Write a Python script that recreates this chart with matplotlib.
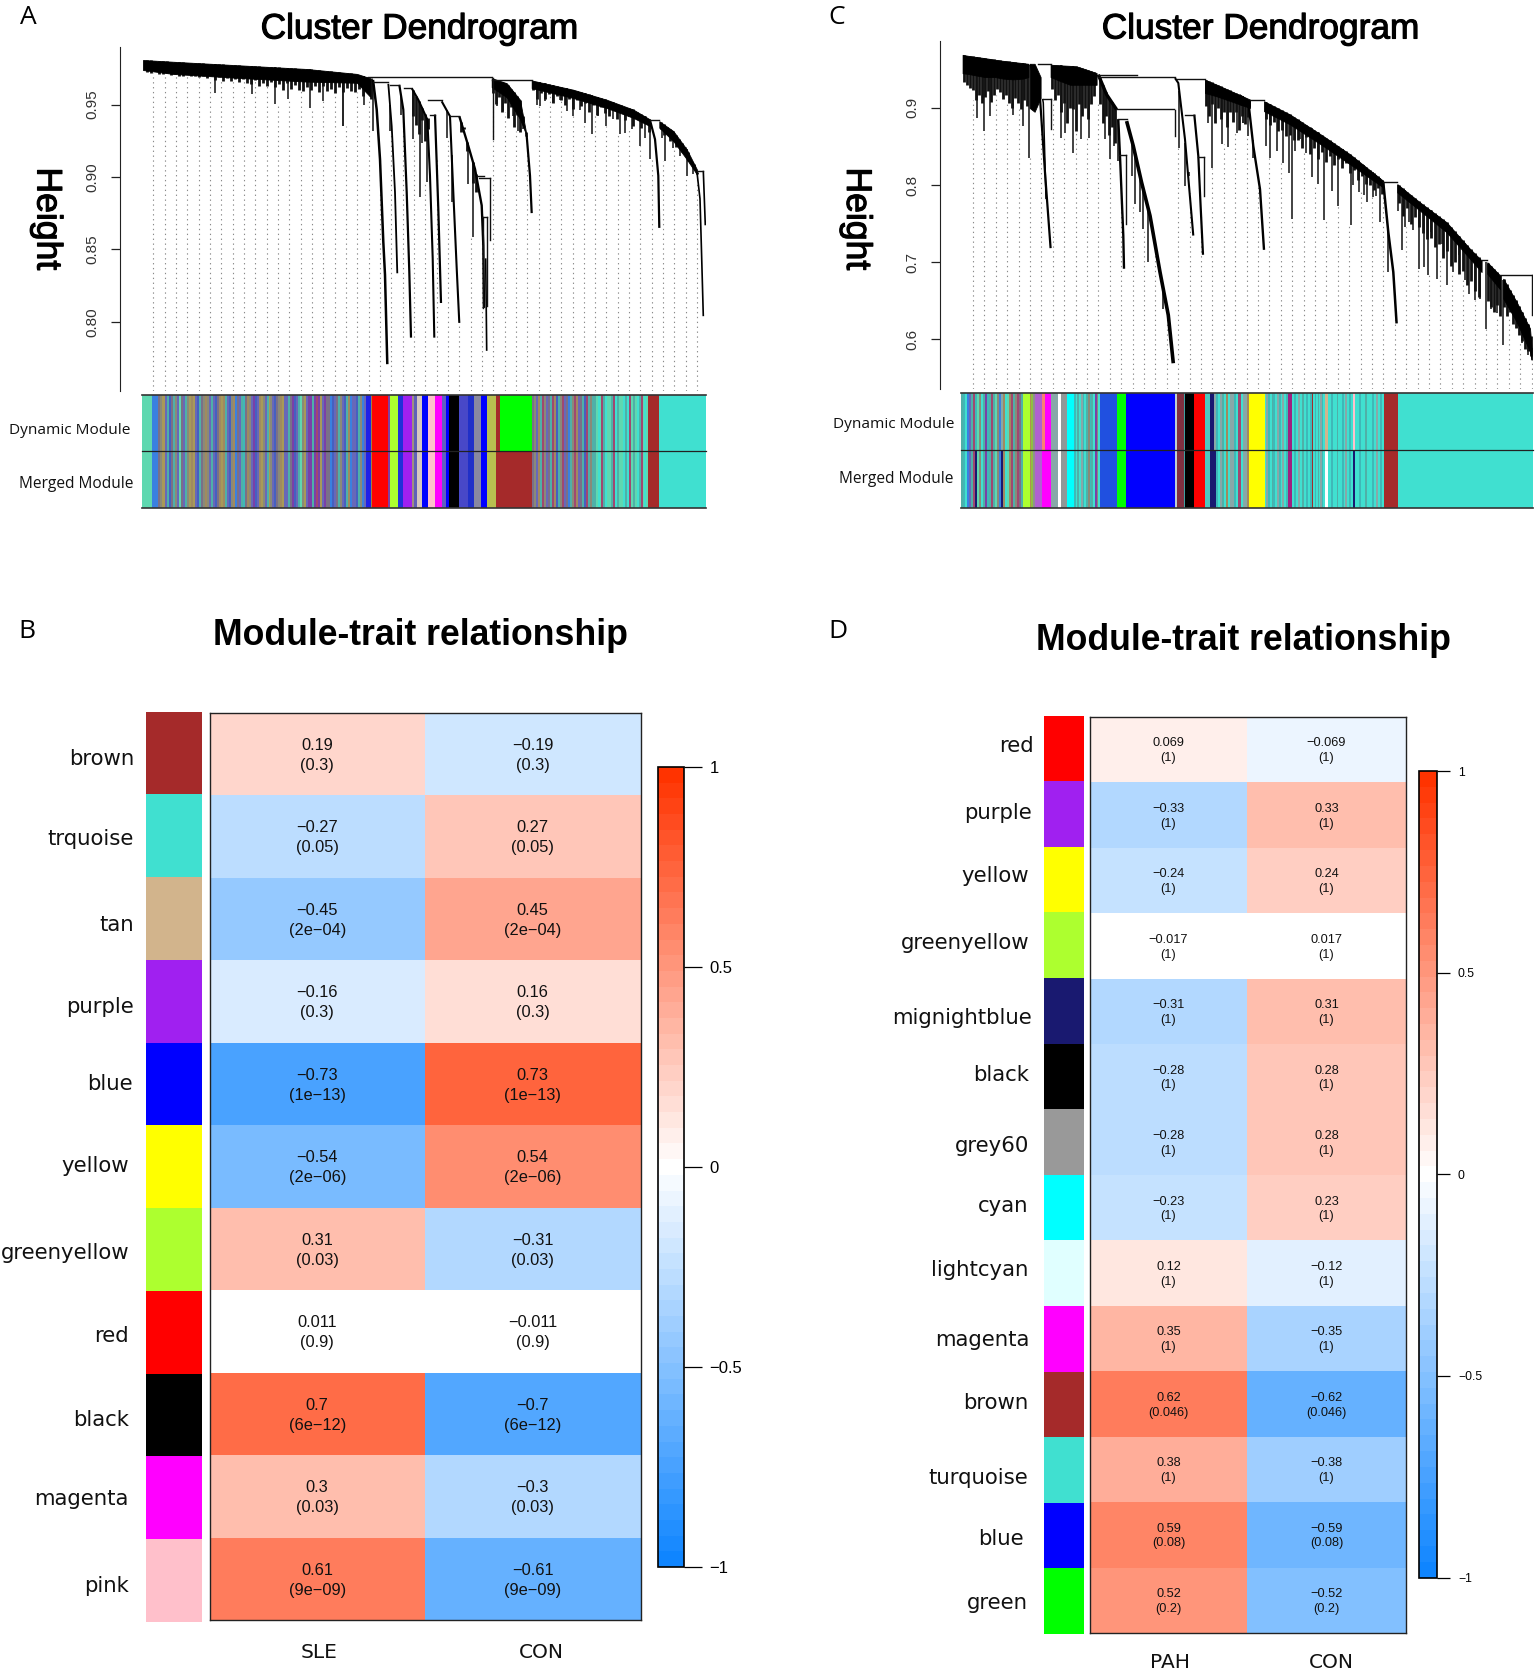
import numpy as np
import matplotlib
matplotlib.use('Agg')
import matplotlib.pyplot as plt
import matplotlib.patheffects as pe
from matplotlib.colors import LinearSegmentedColormap, Normalize, is_color_like
from matplotlib.cm import ScalarMappable

W, H = 1536, 1672
SANS = 'Liberation Sans'

# ---- panel A dendrogram (leaf position, height)
a_bands = [
    ([0, 30, 97, 164, 214, 227], [.9807, .9795, .9770, .9745, .9711, .9682], [.9738, .9711, .9683, .9658, .9650, .9555]),
    ([348.7, 363.7, 377, 383.7], [.9682, .9647, .9533, .9283], [.9620, .9550, .9400, .9283]),
    ([388.7, 430.3, 463.7, 490.3, 507], [.9666, .9602, .9533, .9465, .9397], [.9613, .9545, .9476, .9408, .9351]),
    ([516.3, 530.3, 543.7, 553.7], [.9385, .9317, .9191, .9055], [.9340, .9248, .9123, .9020]),
]
a_branches = [
    [(230, .967), (233.7, .9465), (237, .9123), (240.3, .8553), (242, .8325), (244.3, .7709)],
    [(245.3, .9643), (248.7, .9351), (252, .8895), (254.3, .8336)],
    [(256.3, .9636), (260.3, .9465), (263.7, .8895), (266.3, .8348), (268, .7892)],
    [(268.7, .9613), (275.3, .9533), (284.3, .9397), (287, .9009), (289.7, .8439), (291.3, .7892)],
    [(292, .9431), (295.3, .8781), (298, .8131)],
    [(298.7, .9522), (307, .9419), (310.3, .8895), (313.7, .8371), (316.3, .7994)],
    [(316.3, .9419), (325.3, .9214), (332, .9055), (338.7, .8804), (340.3, .8530), (341, .8097)],
    [(342.7, .8439), (343.7, .7801)],
    [(383.7, .9283), (387, .9009), (388.7, .8751)],
    [(507, .9392), (512, .926), (515.3, .9009), (516.3, .8649)],
    [(553.7, .9050), (557, .885), (558.7, .8439), (560.3, .804)],
    [(560.3, .9043), (562.3, .8667)],
]
a_branch_lw = [1.8, 1.3, 1.6, 1.5, 1.6, 1.5, 1.7, 1.2, 1.6, 1.6, 1.2, 1.2]
a_links = [(225, 348.7, .9688), (230, 245.3, .9652), (247, 256.3, .9636), (261, 268, .9613), (285.3, 298.7, .9529),
           (287, 292, .9431), (307, 316.3, .9424), (335.3, 341, .9009), (336.3, 347, .8991), (338.7, 344.3, .8724),
           (348.7, 388.7, .9670), (507, 516.3, .9392), (553.7, 560.3, .9043)]
a_drops = [(347, .8991, .8564), (344.3, .8724, .8108), (339.7, .8724, .8097), (349.7, .9682, .926)]
a_spikes = [(72, .9579), (109, .9572), (132, .9506), (145, .9538), (167, .9476), (180, .9522), (200, .9351),
            (221, .9499), (230, .9316),
            (199.7, .9351), (247, .9317), (258, .9431), (269.7, .9264), (277, .886), (278.7, .9237), (283.7, .8963),
            (303.7, .9271), (308.7, .8827), (325.3, .8952), (330.3, .8587), (353.7, .9488), (360.3, .9454),
            (370.3, .9419), (375.3, .9317), (380.3, .9328), (393.7, .9499), (397, .9488), (402, .9522), (410.3, .9511),
            (417, .9533), (423.7, .9454), (430.3, .9419), (437, .9465), (442, .9374), (448.7, .9294), (455.3, .9419),
            (463, .9351), (470.3, .9397), (477, .9294), (482, .9305), (488.7, .9328), (497, .9214), (502, .9271),
            (507, .9123), (518.7, .9271), (522, .9112), (530.3, .9203), (537, .9146), (543.7, .9009), (550.3, .9020)]
# jagged under-edge of the dense clusters: first leaf, leaf step, lowest height of each tuft
a_fringes = [
    (4, 4, [.9725, .9715, .9728, .9712, .9708, .9718, .9702, .9712, .9700, .9696, .9708, .9694, .9700,
            .9692, .9700, .9680, .9694, .9672, .9688, .9665, .9682, .9660, .9678, .9655, .9676, .9650,
            .9640, .9668, .9630, .9650, .9625, .9655, .9620, .9640, .9600, .9650, .9610, .9635, .9600,
            .9590, .9620, .9600, .9630, .9585, .9625, .9590, .9610, .9580, .9620, .9585, .9615, .9590,
            .9585, .9610, .9560, .9590, .9540]),
    (350, 3, [.958, .9505, .955, .945, .951, .9405, .948, .9345, .943, .931, .938, .9285]),
    (390, 4, [.9600, .9535, .9580, .9540, .9570, .9510, .9560, .9530, .9500, .9540, .9470, .9530, .9490, .9510, .9450,
              .9500, .9430, .9480, .9440, .9420, .9470, .9400, .9450, .9390, .9420, .9350, .9400, .9340, .9370, .9310]),
    (518, 3, [.9330, .9290, .9300, .9250, .9270, .9210, .9230, .9170, .9200, .9110, .9150, .9060, .9020]),
    (270, 3, [.9420, .9360, .9300, .9390, .9250, .9330]),
    (318, 3, [.9310, .9330, .9180, .9240, .8960, .8900]),
]

# ---- panel C dendrogram
c_bands = [
    ([0, 5.7, 14, 22.4, 32.4, 40.7, 50.7, 60.7, 65.7],
     [.9688, .9675, .9660, .9645, .9625, .9610, .9595, .9580, .9572],
     [.9450, .9440, .9420, .9400, .9400, .9380, .9370, .9380, .9400]),
    ([67, 72, 78], [.9572, .9572, .9400], [.9000, .8950, .9130]),
    ([88, 97.4, 107.4, 114, 120.7, 134], [.956, .9552, .9545, .9538, .9510, .9452], [.9400, .9350, .9300, .9300, .9300, .9300]),
    ([242.4, 254, 287.4], [.9366, .9302, .9108], [.9194, .9151, .9]),
    ([277.4, 287.4], [.9173, .9087], [.9044, .9022]),
    ([301.4, 327.4, 360.7, 387.4, 420.7], [.9087, .8915, .8635, .8399, .8054], [.8958, .8786, .8506, .827, .7968]),
    ([434.7, 457.4, 484, 507.4, 519], [.8012, .7775, .7517, .7173, .7022], [.7904, .7668, .7388, .7044, .6872]),
    ([524.7, 537.4], [.6999, .6829], [.6850, .6650]),
    ([540.7, 554, 567.4, 569], [.6786, .6485, .6141, .5883], [.6528, .6227, .584, .5733]),
]
c_branches = [
    [(68, .956), (77.4, .913), (82.4, .8162), (88, .7182)],
    [(80, .9117), (80.7, .9065), (83.4, .7818)],
    [(135.7, .9431), (144, .9173), (154, .8979)],
    [(155.7, .885), (157.4, .8377), (160.7, .7345), (161.4, .6915)],
    [(164, .8829), (170.7, .8506), (179, .8033), (187.4, .7603), (197.4, .6872), (205.7, .6313), (210.7, .5690)],
    [(212.4, .9387), (215.7, .9323), (222.4, .8592), (230.7, .7345)],
    [(231.7, .8914), (235.7, .8377), (238, .7732), (240.4, .7096)],
    [(285.7, .9087), (290.7, .8506), (297.4, .7947), (301.4, .716)],
    [(420.7, .8033), (425.7, .7388), (430.7, .6872), (434, .6206)],
]
c_branch_lw = [1.6, 1.1, 2.4, 1.7, 2.6, 1.5, 1.6, 1.7, 1.8]
c_links = [(75.7, 88, .9572), (80, 88, .9117), (135.7, 174, .9431), (135.7, 212.4, .9405), (154, 211.7, .8988),
           (155.7, 164, .885), (156.7, 163, .8386), (214, 242.4, .9375), (222.4, 231.7, .8914), (235, 241.7, .8368),
           (287.4, 301.4, .9099), (420.7, 434.7, .8042), (519, 524.7, .703), (537.4, 569.4, .6829)]
c_drops = [(88.7, .9117, .8721), (212.4, .8979, .8635), (163.7, .8386, .7495), (241.7, .8368, .7861), (569.4, .6829, .6313)]
c_spikes = [(14.7, .8871), (21.7, .87), (27.4, .8893), (50, .8914), (60.7, .8764), (66.7, .8355),
            (98.7, .8613), (102.4, .8678), (110, .842), (118, .8592), (126.7, .8613),
            (142.4, .8592), (147.4, .8334), (151.4, .8506), (155.7, .8312), (169.7, .8119),
            (172.4, .7754), (177.4, .7646), (180.7, .7431), (185.7, .7001), (200, .6399), (216.7, .8485), (222.7, .799),
            (226.7, .8119), (245.7, .8807), (249.7, .8227), (259, .8527), (265.7, .8497), (274, .8678), (280, .8807),
            (285.7, .8635), (280.7, .8807), (290, .8356), (303.4, .8506), (307.4, .8356), (314, .8442), (320, .8291),
            (326.4, .8162), (329, .756), (332.4, .8442), (337.4, .8592), (343.4, .842), (349, .8106), (355, .8012),
            (361.4, .7551), (369, .7926), (375, .7723), (380, .827), (388.4, .7483), (390.7, .7999), (396.4, .7913),
            (401.4, .787), (404.7, .7775), (410, .784), (413.4, .7852), (417.4, .7526), (425.7, .6872), (435.7, .7668),
            (439.7, .7164), (442.4, .7453), (446.4, .7526), (450.7, .7422), (456.7, .6906), (461.7, .6937),
            (465.7, .6829), (468, .7388), (474, .6786), (479.7, .7237), (484.7, .67), (490.7, .6872), (496.4, .7087),
            (502.4, .6764), (506.7, .6592), (512.7, .6507), (517.4, .6528), (523.4, .6132), (528, .6399), (534.7, .6335),
            (540, .5926), (554, .6141), (559, .5948), (565, .5797), (569, .5733)]
c_fringes = [
    (1, 3, [.9340, .9300, .9260, .9230, .9100, .9170, .9060, .9140, .9220, .9080, .9170, .9240, .9210, .9120, .9170,
            .9060, .9000, .9130, .9060, .8980, .9100, .9020]),
    (89, 3, [.9250, .9100, .9170, .8950, .9060, .8800, .9000, .8980, .8700, .9050, .8900, .9000, .8850, .9050, .9150]),
    (137, 3, [.9050, .8800, .8900, .8650, .8750, .8550]),
    (243, 3, [.9020, .8900, .9050, .8800, .9000, .8860, .8950, .8750, .8950, .8820, .8950, .8720, .8900, .8790, .8880]),
    (303, 4, [.8860, .8780, .8820, .8700, .8720, .8640, .8650, .8580, .8590, .8480, .8620, .8400, .8480, .8340, .8430,
              .8300, .8380, .8260, .8340, .8220, .8280, .8150, .8200, .8060, .8120, .8020, .8000, .7930, .7960, .7880]),
    (436, 4, [.7770, .7600, .7700, .7500, .7580, .7450, .7380, .7300, .7320, .7200, .7240, .7050, .7150, .6950, .7000,
              .6850, .6880, .6700, .6750, .6620, .6550]),
    (525, 3, [.6500, .6420, .6360, .6440, .6300]),
    (541, 3, [.6420, .6300, .6350, .6200, .6150, .6050, .5980, .5880, .5850, .5780]),
]

# ---- module colour rows: (width in leaves, colour); a non colour key is a run of thin stripes
stripe_colors = {'a': '#5fd8b0', 't': '#40e0d0', 's': '#4fb0a8', 'g': '#8a8a78', 'h': '#7a7088', 'b': '#4660c0',
                 'l': '#3a80e0', 'u': '#6868b8', 'p': '#7a40a8', 'y': '#a89a58', 'o': '#a08a60', 'r': '#a04870',
                 'n': '#191970', 'm': '#3fb8b8', 'e': '#88a8a8'}
a_left = 'aaaaalllhgyyusbhsguahusgyoyubshgogusubhoyosubgolhusmhogupbuoygusygubhgoyuushpbusagyuppsprpyuphhlbuhsgubsoluubsglu'
a_mid = 'hguosrguhsrobsgruhlsgrouhsbrsg'
a_right = 'ssatarstaasrtsaatstrasatsrata'
a_dynamic = [(223.9, a_left), (5.8, '#2020e8'), (.6, '#a08040'), (15.9, 'red'), (1.9, '#8040a0'), (8.4, 'greenyellow'),
             (4.6, '#2030d8'), (8.8, '#a020f0'), (1.9, '#a09080'), (3.9, '#6060b8'), (4.9, '#d8c8c0'), (5.7, '#0000ff'),
             (7, 'pink'), (7.3, 'magenta'), (3.7, '#6060c0'), (3.2, '#0000ff'), (10.3, 'black'), (8.5, '#4848c8'),
             (6, '#2030c8'), (7.3, '#8888a0'), (6.2, '#0000ff'), (8.4, '#b8c050'), (3.8, 'brown'), (31.8, 'lime'),
             (60.2, a_mid), (56.7, a_right), (11.1, 'brown'), (47, 'turquoise')]
a_merged = [(223.9, a_left), (5.8, '#2020e8'), (.6, '#a08040'), (15.9, 'red'), (1.9, '#8040a0'), (8.4, 'greenyellow'),
            (4.6, '#2030d8'), (8.8, '#a020f0'), (1.9, '#a09080'), (3.9, '#6060b8'), (4.9, '#d8c8c0'), (5.7, '#0000ff'),
            (7, 'pink'), (7.3, 'magenta'), (3.7, '#6060c0'), (3.2, '#0000ff'), (10.3, 'black'), (8.5, '#4848c8'),
            (6, '#2030c8'), (7.3, '#8888a0'), (6.2, '#0000ff'), (8.4, '#b8c050'), (35.6, 'brown'),
            (60.2, a_mid), (56.7, a_right), (11.1, 'brown'), (47, 'turquoise')]

c_left_dyn = 'smtlusrmagtspmsrsagleotaorsgrhs'
c_left_mer = 'smtlusrnagtspmsrsaglnotaorsgrhs'
c_tail = 'mtstemtsgmstpgt'
c_mid_dyn = 'emtestoteemtrteeo'
c_mid_mer = 'nmtestoteemtrteeo'
c_late = 'temtsmtemtetm'
c_run1 = 'tmtetstmtm'
c_run2 = 'tmtstemt'
c_run3 = 'ttmttsttmtetmt'
c_dynamic = [(62.1, c_left_dyn), (6.7, 'greenyellow'), (1, '#b09050'), (1.6, '#90c040'), (2.4, '#909090'), (6.7, '#b060d0'),
             (3.3, 'salmon'), (5.7, 'magenta'), (7.6, '#88a8a8'), (2.7, 'white'), (6.3, '#909898'), (6.7, 'cyan'),
             (26, c_tail), (16.6, '#2050e0'), (.7, '#20a0f0'), (8.7, 'lime'), (48.6, '#0000ff'), (2, '#c0d0d0'),
             (7.4, '#803040'), (1.2, '#40a0a0'), (9, 'black'), (10.4, 'red'), (5.7, '#50c8c0'), (3.7, 'midnightblue'),
             (34.7, c_mid_dyn), (15.9, 'yellow'), (23, c_late), (4, '#a02080'), (20.7, c_run1), (1, 'brown'),
             (11.3, c_run2), (3, 'tan'), (25, c_run3), (2.8, 'pink'), (28.2, c_run3), (14, 'brown'), (135.4, 'turquoise')]
c_merged = [(62.1, c_left_mer), (6.7, 'greenyellow'), (1, '#b09050'), (1.6, '#90c040'), (2.4, '#909090'), (6.7, '#b060d0'),
            (9, 'magenta'), (7.6, '#88a8a8'), (2.7, 'white'), (6.3, '#909898'), (6.7, 'cyan'),
            (26, c_tail), (16.6, '#2050e0'), (.7, '#20a0f0'), (8.7, 'lime'), (48.6, '#0000ff'), (2, '#c0d0d0'),
            (7.4, '#803040'), (1.2, '#40a0a0'), (9, 'black'), (10.4, 'red'), (5.7, '#50c8c0'), (3.7, 'midnightblue'),
            (34.7, c_mid_mer), (15.9, 'yellow'), (23, c_late), (4, '#a02080'), (20.7, c_run1), (1, 'brown'),
            (11.3, c_run2), (3, 'white'), (25, c_run3), (2.8, 'midnightblue'), (28.2, c_run3), (14, 'brown'), (135.4, 'turquoise')]

# ---- heatmaps
b_modules = ['brown', 'trquoise', 'tan', 'purple', 'blue', 'yellow', 'greenyellow', 'red', 'black', 'magenta', 'pink']
b_colors = ['#a52a2a', '#40e0d0', '#d2b48c', '#a020f0', '#0000ff', '#ffff00', '#adff2f', '#ff0000', '#000000', '#ff00ff', '#ffc0cb']
b_corr = [0.19, -0.27, -0.45, -0.16, -0.73, -0.54, 0.31, 0.011, 0.7, 0.3, 0.61]
b_pval = ['0.3', '0.05', '2e−04', '0.3', '1e−13', '2e−06', '0.03', '0.9', '6e−12', '0.03', '9e−09']
b_traits = ['SLE', 'CON']

d_modules = ['red', 'purple', 'yellow', 'greenyellow', 'mignightblue', 'black', 'grey60', 'cyan', 'lightcyan',
             'magenta', 'brown', 'turquoise', 'blue', 'green']
d_colors = ['#ff0000', '#a020f0', '#ffff00', '#adff2f', '#191970', '#000000', '#999999', '#00ffff', '#e0ffff',
            '#ff00ff', '#a52a2a', '#40e0d0', '#0000ff', '#00ff00']
d_corr = [0.069, -0.33, -0.24, -0.017, -0.31, -0.28, -0.28, -0.23, 0.12, 0.35, 0.62, 0.38, 0.59, 0.52]
d_pval = ['1', '1', '1', '1', '1', '1', '1', '1', '1', '1', '0.046', '1', '0.08', '0.2']
d_traits = ['PAH', 'CON']

# label anchors, (right edge px, centre px)
b_label_pos = [(134, 759.4), (133.5, 839.4), (134, 924.7), (133.5, 1006.9), (133, 1083.7), (129, 1165.8), (129, 1253.3),
               (128.5, 1336.5), (129, 1419.7), (129, 1498.6), (129, 1586)]
d_label_pos = [(1033.6, 745.5), (1031.5, 812.7), (1029.3, 875.7), (1029.3, 942.9), (1031.5, 1017.5), (1029.3, 1075.1),
               (1029.3, 1145.5), (1028.3, 1206.3), (1028.3, 1270.3), (1029.3, 1339.7), (1028.3, 1402.6), (1028.3, 1478.3),
               (1024, 1539.1), (1028.3, 1603.1)]

cmap = LinearSegmentedColormap.from_list('bwr51', ['#0f85ff', '#ffffff', '#ff3300'], N=51)
fig = plt.figure(figsize=(W / 100, H / 100), dpi=100, facecolor='white')


def px_axes(x0, y0, x1, y1):
    return fig.add_axes([x0 / W, 1 - y1 / H, (x1 - x0) / W, (y1 - y0) / H])


def put(x, y, s, **kw):
    kw.setdefault('ha', 'center')
    kw.setdefault('va', 'center')
    fig.text(x / W, 1 - y / H, s, **kw)


def heights_at(u, bands, branches):
    found = []
    for xs, up, lo in bands:
        if xs[0] <= u <= xs[-1]:
            found.append((np.interp(u, xs, up), np.interp(u, xs, lo)))
    for br in branches:
        xs = [p[0] for p in br]
        ys = [p[1] for p in br]
        if xs[0] <= u <= xs[-1]:
            v = np.interp(u, xs, ys)
            found.append((v, v))
    return found


def hang(u, h, bands, branches):
    # a leaf tuft hangs from the nearest structure above it
    for d in (0, 1.5, -1.5, 3, -3, 5, -5, 8, -8):
        above = [p[0] for p in heights_at(u + d, bands, branches) if p[0] > h]
        if above:
            return min(above)
    return h + 0.01


def draw_dendro(box, x_px0, ylim, ticks, tick_labels, bands, branches, lws, links, drops, spikes, fringes,
                guide_start, guide_step):
    ax = px_axes(*box)
    ax.set_xlim(box[0] - x_px0, box[2] - x_px0)
    ax.set_ylim(*ylim)
    for side in ['top', 'right', 'bottom']:
        ax.spines[side].set_visible(False)
    ax.spines['left'].set_color('#222222')
    ax.set_xticks([])
    ax.set_yticks(ticks)
    ax.set_yticklabels(tick_labels, rotation=90, va='center', fontsize=11, family=SANS, color='#333333')
    ax.tick_params(axis='y', length=6.5, width=0.9, pad=8, color='#222222')
    tufts = []
    for u0, step, vals in fringes:
        tufts += [(u0 + i * step, v) for i, v in enumerate(vals)]
    # dotted guides hang from the tree down to the axis floor
    gx = guide_start
    while gx < box[2] - x_px0:
        lows = [p[1] for p in heights_at(gx, bands, branches)]
        lows += [h for u, h in spikes + tufts if abs(u - gx) < 3]
        top = min(lows) if lows else ylim[1]
        ax.plot([gx, gx], [ylim[0], top], color='#8a8a8a', lw=0.8, ls=(0, (1.2, 3.2)), zorder=1)
        gx += guide_step
    for u, up, lo in bands:
        ax.fill_between(u, lo, up, color='black', lw=0.6, zorder=3)
    for br, lw in zip(branches, lws):
        ax.plot([p[0] for p in br], [p[1] for p in br], color='black', lw=lw, zorder=3, solid_capstyle='butt')
    for a, b, h in links:
        ax.plot([a, b], [h, h], color='#111111', lw=1.0, zorder=3)
    for u, h1, h2 in drops:
        ax.plot([u, u], [h1, h2], color='#111111', lw=1.0, zorder=3)
    for u, h in spikes:
        ax.plot([u, u], [h, hang(u, h, bands, branches)], color='#222222', lw=1.2, zorder=2, solid_capstyle='butt')
    for u, h in tufts:
        ax.plot([u, u], [h, hang(u, h, bands, branches)], color='#111111', lw=2.0, zorder=2, solid_capstyle='butt')
    return ax


def draw_strip(box, x_px0, row_top, row_bottom):
    ax = px_axes(*box)
    ax.set_xlim(box[0] - x_px0, box[2] - x_px0)
    ax.set_ylim(0, 2)
    ax.axis('off')
    for base, row in [(1, row_top), (0, row_bottom)]:
        left = box[0] - x_px0
        for width, key in row:
            if is_color_like(key):
                ax.bar(left, 1, width, base, color=key, align='edge', lw=0)
            else:
                step = width / len(key)
                for i, c in enumerate(key):
                    ax.bar(left + i * step, 1, step, base, color=stripe_colors[c], align='edge', lw=0)
            left += width
    for y, c, lw in [(0, '#333333', 1.2), (1, '#222222', 0.9), (2, '#333333', 1.2)]:
        ax.axhline(y, color=c, lw=lw, clip_on=False, zorder=5)


def draw_heat(col_box, heat_box, bar_box, colors, corr, pval, fs, line_sp, tick_fs, tick_len, split):
    ax = px_axes(*col_box)
    ax.bar(0, 1, 1, range(len(colors)), color=colors, align='edge', lw=0)
    ax.set_xlim(0, 1)
    ax.set_ylim(len(colors), 0)
    ax.axis('off')

    ax = px_axes(*heat_box)
    vals = np.array([corr, [-v for v in corr]]).T
    xedges = [0, (split - heat_box[0]) / (heat_box[2] - heat_box[0]), 1]
    ax.pcolormesh(xedges, np.arange(len(corr) + 1), vals, cmap=cmap, vmin=-1, vmax=1)
    ax.set_ylim(len(corr), 0)
    ax.set_xlim(0, 1)
    ax.set_xticks([])
    ax.set_yticks([])
    for s in ax.spines.values():
        s.set_linewidth(1.0)
        s.set_color('#222222')
    for i in range(len(corr)):
        for j in range(2):
            r = str(vals[i, j]).replace('-', '−')
            ax.text((xedges[j] + xedges[j + 1]) / 2, i + 0.52, r + '\n(' + pval[i] + ')', ha='center', va='center',
                    fontsize=fs, family=SANS, color='#111111', linespacing=line_sp)

    cax = px_axes(*bar_box)
    cb = fig.colorbar(ScalarMappable(Normalize(-1, 1), cmap), cax=cax, drawedges=False)
    cb.set_ticks([-1, -0.5, 0, 0.5, 1])
    cb.set_ticklabels(['−1', '−0.5', '0', '0.5', '1'])
    cb.ax.tick_params(length=tick_len, width=0.9, labelsize=tick_fs, pad=6)
    for t in cb.ax.get_yticklabels():
        t.set_family(SANS)
    cb.outline.set_linewidth(1.2)


# panel A and C trees
draw_dendro((119.5, 47.1, 705.5, 391), 143, (.7524, .9896), [.80, .85, .90, .95], ['0.80', '0.85', '0.90', '0.95'],
            a_bands, a_branches, a_branch_lw, a_links, a_drops, a_spikes, a_fringes, 10.3, 11.33)
draw_dendro((940, 40.5, 1533, 389.3), 962.6, (.5352, .9874), [.6, .7, .8, .9], ['0.6', '0.7', '0.8', '0.9'],
            c_bands, c_branches, c_branch_lw, c_links, c_drops, c_spikes, c_fringes, 10.4, 11.4)
draw_strip((141.7, 394.7, 705.5, 507.7), 143, a_dynamic, a_merged)
draw_strip((961.2, 392.5, 1533, 507.7), 962.6, c_dynamic, c_merged)

# panel B and D heatmaps
draw_heat((146, 711.5, 201.6, 1622), (210, 712.5, 641, 1620), (658, 767, 683.7, 1567), b_colors, b_corr, b_pval,
          11.8, 1.42, 12, 12.7, 424.5)
draw_heat((1044.3, 715.7, 1083.7, 1634), (1090, 716.8, 1406, 1633), (1418.7, 771, 1436.8, 1577.6), d_colors,
          d_corr, d_pval, 9.2, 1.3, 8.8, 9.2, 1247)

for name, (x, y) in zip(b_modules, b_label_pos):
    put(x, y, name, ha='right', fontsize=15.3, color='#111111')
for name, (x, y) in zip(d_modules, d_label_pos):
    put(x, y, name, ha='right', fontsize=15.3, color='#111111')
put(319, 1652.5, b_traits[0], fontsize=14.5, color='#111111')
put(541, 1652.5, b_traits[1], fontsize=14.5, color='#111111')
put(1170, 1663, d_traits[0], fontsize=14.5, color='#111111')
put(1331.5, 1663, d_traits[1], fontsize=14.5, color='#111111')

# titles and panel letters
heavy = [pe.withStroke(linewidth=0.8, foreground='black')]
put(419.5, 29, 'Cluster Dendrogram', fontsize=25.4, family=SANS, color='black', path_effects=heavy)
put(1260.6, 29, 'Cluster Dendrogram', fontsize=25.4, family=SANS, color='black', path_effects=heavy)
put(420.6, 636, 'Module-trait relationship', fontsize=25.7, family=SANS, weight='bold')
put(1243.8, 640, 'Module-trait relationship', fontsize=25.7, family=SANS, weight='bold')
put(47, 218.7, 'Height', fontsize=25.6, family=SANS, rotation=-90, path_effects=heavy)
put(856.6, 218.7, 'Height', fontsize=25.6, family=SANS, rotation=-90, path_effects=heavy)
put(28, 18, 'A', fontsize=19, family='Open Sans')
put(837, 18, 'C', fontsize=19, family='Open Sans')
put(27, 632, 'B', fontsize=19, family='Open Sans')
put(838.4, 632, 'D', fontsize=19, family='Open Sans')
put(130, 430, 'Dynamic Module', ha='right', fontsize=11.1, family='Open Sans', color='#111111')
put(133, 484, 'Merged Module', ha='right', fontsize=11.2, family='Open Sans', color='#111111')
put(954.7, 425, 'Dynamic Module', ha='right', fontsize=11.1, family='Open Sans', color='#111111')
put(953, 479, 'Merged Module', ha='right', fontsize=11.2, family='Open Sans', color='#111111')

fig.savefig('out.png', dpi=100)
